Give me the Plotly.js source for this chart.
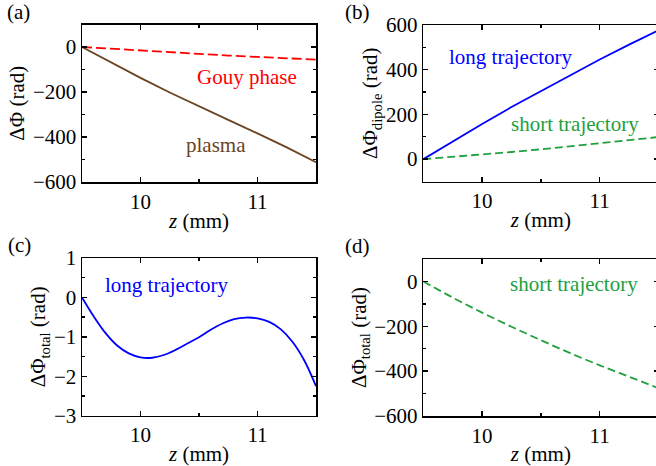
<!DOCTYPE html>
<html>
<head>
<meta charset="utf-8">
<script src="https://cdn.plot.ly/plotly-3.0.1.min.js"></script>
<style>
html,body{margin:0;padding:0;overflow:hidden;background:#fff;}
#chart{width:660px;height:466px;}
</style>
</head>
<body>
<div id="chart"></div>
<script>
// ---- data ----
const zA = [9.5, 9.75, 10, 10.25, 10.5, 10.75, 11, 11.25, 11.5];
const gouy = [0, -8, -16, -24, -31, -38, -44, -50, -56];
const plasma = [0, -70, -137, -202, -264, -324, -384, -446, -512];

const zB = [9.5, 9.75, 10, 10.25, 10.5, 10.75, 11, 11.25, 11.5];
const dipoleLong = [0, 80, 157, 233, 305, 375, 446, 512, 576];
const dipoleShort = [0, 10, 21, 32, 44, 57, 70, 84, 99];

const zC = [9.5, 9.6, 9.7, 9.8, 9.9, 10.0, 10.1, 10.2, 10.3, 10.4, 10.5, 10.6, 10.7, 10.8, 10.9, 11.0, 11.1, 11.2, 11.3, 11.4, 11.5];
const totalLong = [0, -0.48, -0.90, -1.22, -1.42, -1.52, -1.53, -1.46, -1.33, -1.17, -1.01, -0.82, -0.66, -0.55, -0.51, -0.53, -0.62, -0.81, -1.13, -1.60, -2.25];

const zD = [9.5, 9.75, 10, 10.25, 10.5, 10.75, 11, 11.25, 11.5];
const totalShort = [0, -72, -139, -202, -262, -320, -374, -425, -476];

const xTicks = [10, 11];
const panelLabels = ['(a)', '(b)', '(c)', '(d)'];

// ---- styling ----
const W = 660, H = 466;
const FONT = '"Liberation Serif", "Times New Roman", serif';
const RED = '#ff0000', BROWN = '#6b4423', BLUE = '#0000ff', GREEN = '#22a03e';
const px = v => v / W;
const py = v => 1 - v / H;

function xax(dom, anchor) {
  return {
    domain: dom, anchor: anchor, range: [9.5, 11.5],
    tickvals: xTicks, ticks: 'inside', ticklen: 5, tickwidth: 1.3, tickcolor: '#000',
    minor: {dtick: 0.5, tick0: 9.5, ticks: 'inside', ticklen: 3, tickwidth: 1.3, tickcolor: '#000'},
    showline: true, linecolor: '#000', linewidth: 1.5, mirror: 'allticks',
    showgrid: false, zeroline: false, automargin: false,
    tickfont: {family: FONT, size: 21, color: '#000'},
    title: {text: '<i>z</i> (mm)', font: {family: FONT, size: 21, color: '#000'}, standoff: 0}
  };
}
function yax(dom, anchor, range, tickvals, minorDtick, title) {
  return {
    domain: dom, anchor: anchor, range: range,
    tickvals: tickvals, ticks: 'inside', ticklen: 5, tickwidth: 1.3, tickcolor: '#000',
    minor: {dtick: minorDtick, tick0: 0, ticks: 'inside', ticklen: 3, tickwidth: 1.3, tickcolor: '#000'},
    showline: true, linecolor: '#000', linewidth: 1.5, mirror: 'allticks',
    showgrid: false, zeroline: false, automargin: false,
    tickfont: {family: FONT, size: 21, color: '#000'},
    title: {text: title, font: {family: FONT, size: 21, color: '#000'}, standoff: 2}
  };
}

const traces = [
  {x: zA, y: gouy, xaxis: 'x', yaxis: 'y', mode: 'lines', line: {color: RED, width: 1.8, dash: '10px,4px'}},
  {x: zA, y: plasma, xaxis: 'x', yaxis: 'y', mode: 'lines', line: {color: BROWN, width: 1.8}},
  {x: zB, y: dipoleLong, xaxis: 'x2', yaxis: 'y2', mode: 'lines', line: {color: BLUE, width: 1.8}},
  {x: zB, y: dipoleShort, xaxis: 'x2', yaxis: 'y2', mode: 'lines', line: {color: GREEN, width: 1.8, dash: '8px,4px'}},
  {x: zC, y: totalLong, xaxis: 'x3', yaxis: 'y3', mode: 'lines', line: {color: BLUE, width: 1.8, shape: 'spline'}},
  {x: zD, y: totalShort, xaxis: 'x4', yaxis: 'y4', mode: 'lines', line: {color: GREEN, width: 1.8, dash: '8px,4px', shape: 'spline'}}
];

function txt(text, x, y, color) {
  return {text: text, xref: 'paper', yref: 'paper', x: px(x), y: py(y), xanchor: 'center', yanchor: 'middle',
    showarrow: false, font: {family: FONT, size: 21, color: color}};
}

const annotations = [
  txt(panelLabels[0], 18, 12, '#000'),
  txt(panelLabels[1], 357, 12, '#000'),
  txt(panelLabels[2], 19, 245, '#000'),
  txt(panelLabels[3], 357, 246, '#000'),
  txt('Gouy phase', 247, 77, RED),
  txt('plasma', 216, 145, BROWN),
  txt('long trajectory', 511, 57, BLUE),
  txt('short trajectory', 575, 124, GREEN),
  txt('long trajectory', 167, 285, BLUE),
  txt('short trajectory', 574, 284, GREEN)
];

const layout = {
  width: W, height: H,
  margin: {l: 0, r: 0, t: 0, b: 0},
  paper_bgcolor: '#fff', plot_bgcolor: '#fff',
  showlegend: false,
  font: {family: FONT, size: 21, color: '#000'},
  xaxis: xax([px(82), px(316)], 'y'),
  yaxis: yax([1 - 182 / H, 1 - 24.5 / H], 'x', [-600, 100], [0, -200, -400, -600], 100, '\u0394\u03A6 (rad)'),
  xaxis2: xax([px(423.3), px(658.5)], 'y2'),
  yaxis2: yax([1 - 181.5 / H, 1 - 25 / H], 'x2', [-100, 600], [0, 200, 400, 600], 100, '\u0394\u03A6<sub>dipole</sub> (rad)'),
  xaxis3: xax([px(82), px(316)], 'y3'),
  yaxis3: yax([1 - 415.7 / H, 1 - 258 / H], 'x3', [-3, 1], [1, 0, -1, -2, -3], 0.5, '\u0394\u03A6<sub>total</sub> (rad)'),
  xaxis4: xax([px(423.3), px(658.5)], 'y4'),
  yaxis4: yax([1 - 416 / H, 1 - 259 / H], 'x4', [-600, 100], [0, -200, -400, -600], 100, '\u0394\u03A6<sub>total</sub> (rad)'),
  annotations: annotations
};

Plotly.newPlot('chart', traces, layout, {displayModeBar: false, staticPlot: true});
</script>
</body>
</html>
